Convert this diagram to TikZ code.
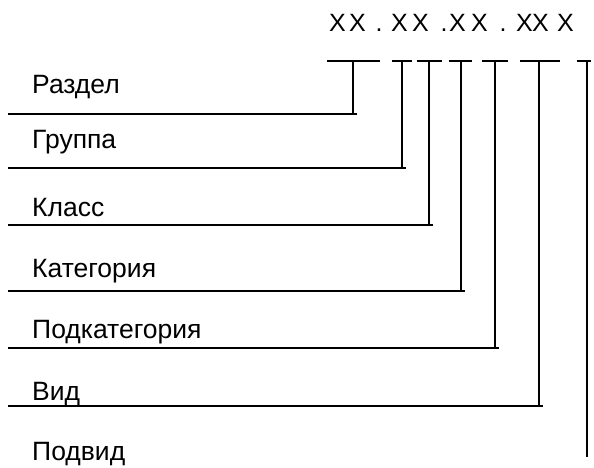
\documentclass[tikz,border=0pt]{standalone}
\usepackage{fontspec}
\setmainfont{Liberation Sans}
\begin{document}
\begin{tikzpicture}[x=1pt,y=-1pt,
  lbl/.style={anchor=base west,inner sep=0pt,font=\fontsize{26.5}{31}\selectfont},
  sym/.style={anchor=base,inner sep=0pt,font=\fontsize{25}{29}\selectfont},
  rule/.style={line width=1.6pt}]
\useasboundingbox (0,0) rectangle (594,467);

% code template
\foreach \i/\c/\x in {1/X/337.5, 2/X/357.5, 3/./379, 4/X/399.5, 5/X/420.5, 6/./444,
                      7/X/457.5, 8/X/479.5, 9/./503, 10/X/524.5, 11/X/540.5, 12/X/565.5}
  \node[sym] (s\i) at (\x,31) {\c};

% levels: name, baseline, line, tick from, tick to, stem
\foreach \i/\txt/\by/\ly/\ta/\tb/\vx in {1/Раздел/93/114/327/380/353,
                                         2/Группа/148/168/392/412/402,
                                         3/Класс/216/225/417/442/429,
                                         4/Категория/277/291/449/472/461,
                                         5/Подкатегория/338/348/482/508/495,
                                         6/Вид/400/406/520/560/539}{
  \node[lbl] (l\i) at (32,\by) {\txt};
  \coordinate (ta\i) at (\ta,61);
  \coordinate (tb\i) at (\tb,61);
  \coordinate (top\i) at (\vx,61);
  \coordinate (bot\i) at (\vx,\ly);
  \coordinate (st\i) at (8,\ly);
  \coordinate (en\i) at (\vx+4,\ly);
  \draw[rule] (ta\i) -- (tb\i);
  \draw[rule] (top\i) -- (bot\i);
  \draw[rule] (st\i) -- (en\i);
}

% last level has no underline
\node[lbl] (l7) at (32,460) {Подвид};
\coordinate (ta7) at (577,61);
\coordinate (tb7) at (591,61);
\coordinate (top7) at (587,61);
\coordinate (bot7) at (587,457);
\draw[rule] (ta7) -- (tb7);
\draw[rule] (top7) -- (bot7);
\end{tikzpicture}
\end{document}
